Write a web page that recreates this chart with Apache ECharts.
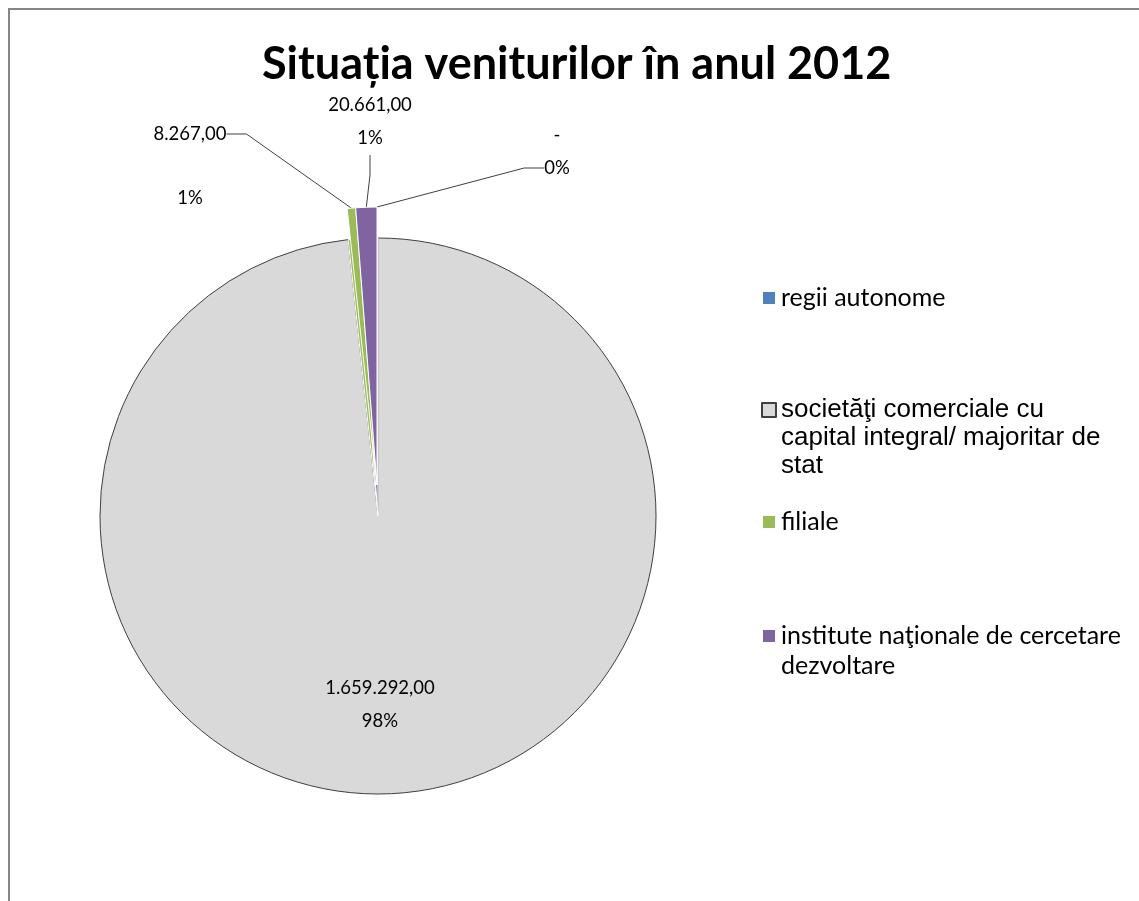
<!DOCTYPE html>
<html>
<head>
<meta charset="utf-8">
<script src="https://cdn.jsdelivr.net/npm/echarts@6/dist/echarts.min.js"></script>
<style>
  html, body { margin: 0; padding: 0; background: #fff; }
  #chart { width: 1139px; height: 901px; }
</style>
</head>
<body>
<div id="chart"></div>
<script>
const categories = [
  'regii autonome',
  'societăţi comerciale cu capital integral/ majoritar de stat',
  'filiale',
  'institute naţionale de cercetare dezvoltare'
]
const legendLines = [
  ['regii autonome'],
  ['societăţi comerciale cu', 'capital integral/ majoritar de', 'stat'],
  ['filiale'],
  ['institute naţionale de cercetare', 'dezvoltare']
]
const values = [0, 1659292, 8267, 20661]
const percentLabels = ['0%', '98%', '1%', '1%']
const colors = ['#4F81BD', '#D9D9D9', '#9BBB59', '#8064A2']
// slices pulled out of the pie
const exploded = [true, false, true, true]

const labelFont = 'Lato, "Open Sans", sans-serif'

// 1659292 -> "1.659.292,00", 0 -> "-"
function formatRo(v) {
  if (!v) return '-'
  const [intPart, dec] = v.toFixed(2).split('.')
  return intPart.replace(/\B(?=(\d{3})+(?!\d))/g, '.') + ',' + dec
}

// label text per slice; blank lines keep the leader line on the right text line
function labelText(i) {
  const val = formatRo(values[i])
  const pct = percentLabels[i]
  if (i === 0) return val + '\n' + pct + '\n'
  if (i === 2) return '\n\n' + val + '\n\n' + pct
  return val + '\n' + pct
}

const chart = echarts.init(document.getElementById('chart'))

const legendTops = [284, 340, 508, 591]
const legendLineHeights = [28, 28, 28, 30]

const center = [378, 516]
const explodeCenter = [377, 485]
const radius = 278

function pieSeries(isExploded) {
  return {
    type: 'pie',
    center: isExploded ? explodeCenter : center,
    radius,
    startAngle: 90,
    clockwise: true,
    avoidLabelOverlap: false,
    selectedMode: false,
    emphasis: { disabled: true },
    silent: true,
    label: {
      fontFamily: labelFont,
      fontSize: 18.5,
      lineHeight: 33,
      color: '#000',
      align: 'center',
      formatter: (p) => labelText(p.dataIndex)
    },
    labelLine: {
      show: true,
      length2: 20,
      lineStyle: { color: '#404040', width: 1 }
    },
    labelLayout: (params) => {
      if (isExploded !== exploded[params.dataIndex]) return
      switch (params.dataIndex) {
        case 0: return { x: 557, y: 168, align: 'center', verticalAlign: 'middle' }
        case 1: return { x: 380, y: 705, align: 'center', verticalAlign: 'middle' }
        case 2: return { x: 190, y: 134, align: 'center', verticalAlign: 'middle' }
        case 3: return { x: 370, y: 122, align: 'center', verticalAlign: 'middle' }
      }
    },
    data: categories.map((name, i) => {
      const own = isExploded === exploded[i]
      const visible = own || !isExploded
      return {
        name,
        value: values[i],
        itemStyle: {
          color: visible ? colors[i] : 'rgba(0,0,0,0)',
          borderColor: !visible ? 'rgba(0,0,0,0)' : (i === 1 ? '#404040' : '#fff'),
          borderWidth: visible ? 1 : 0
        },
        label: own
          ? (i === 1 ? { position: 'inside' } : (i === 2 ? { lineHeight: 32 } : {}))
          : { show: false },
        labelLine: { show: own && i !== 1 }
      }
    })
  }
}

const option = {
  animation: false,
  backgroundColor: '#fff',
  title: {
    text: 'Situația veniturilor în anul 2012',
    left: 262,
    top: 39,
    padding: 0,
    textStyle: { fontFamily: labelFont, fontWeight: 'bold', fontSize: 45, lineHeight: 50, color: '#000' }
  },
  legend: categories.map((name, i) => {
    const lh = legendLineHeights[i]
    const lines = legendLines[i]
    return {
      data: [name],
      left: 761,
      top: legendTops[i],
      padding: 0,
      orient: 'vertical',
      icon: 'rect',
      itemWidth: 14,
      itemHeight: 14,
      selectedMode: false,
      // blank lines in front put the first text line beside the marker
      formatter: () => '\n'.repeat(lines.length - 1) + lines.join('\n'),
      textStyle: {
        fontFamily: i === 1 ? '"Liberation Sans", Arial, sans-serif' : labelFont,
        fontSize: i === 1 ? 26 : 25,
        lineHeight: lh,
        color: '#000'
      }
    }
  }),
  graphic: [{
    type: 'rect',
    shape: { x: 9, y: 9, width: 1300, height: 1000 },
    style: { fill: 'none', stroke: '#868686', lineWidth: 2 },
    silent: true
  }],
  series: [pieSeries(false), pieSeries(true)]
}

chart.setOption(option)
</script>
</body>
</html>
